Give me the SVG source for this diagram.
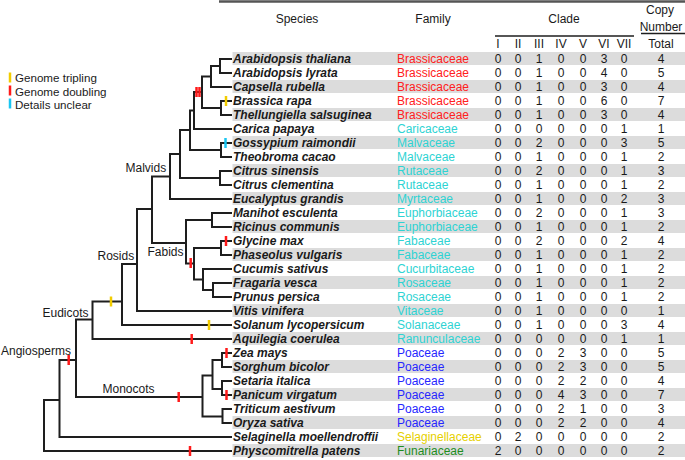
<svg xmlns="http://www.w3.org/2000/svg" width="685" height="460" viewBox="0 0 685 460">
<style>
text{font-family:"Liberation Sans",Arial,sans-serif;font-size:12px;fill:#1a1a1a}
.h{text-anchor:middle}
.sp{font-weight:bold;font-style:italic}
.n{text-anchor:middle}
.lg{font-size:11.6px}
.band{fill:#dcdcdc}
.br{fill:#ff2020}.cy{fill:#2ed3d3}.bl{fill:#2626ff}.ye{fill:#e6d000}.gr{fill:#1e8c1e}
.tree path{fill:none;stroke:#1e1e1e;stroke-width:2;stroke-linejoin:miter}
.mk{stroke-width:2.5}
.mr{stroke:#ff1a1a}.my{stroke:#f2cc00}.mc{stroke:#1ac6f2}
.rule{stroke:#1e1e1e;stroke-width:1.5}
</style>
<g id="header">
<line x1="219" y1="1.5" x2="685" y2="1.5" stroke="#555" stroke-width="2.5"/>
<text class="h" x="297" y="23">Species</text>
<text class="h" x="433" y="23">Family</text>
<text class="h" x="564" y="23">Clade</text>
<text class="h" x="660" y="14">Copy</text>
<text class="h" x="661" y="31">Number</text>
<line class="rule" x1="495" y1="36" x2="634" y2="36"/>
<line class="rule" x1="641" y1="33.5" x2="685" y2="33.5"/>
<text class="h" y="48"><tspan x="498">I</tspan><tspan x="518">II</tspan><tspan x="539">III</tspan><tspan x="561">IV</tspan><tspan x="583">V</tspan><tspan x="604">VI</tspan><tspan x="624">VII</tspan><tspan x="661">Total</tspan></text>
</g>
<g id="legend">
<line class="mk my" x1="10" y1="72.5" x2="10" y2="82.5"/>
<line class="mk mr" x1="10" y1="85.5" x2="10" y2="95.5"/>
<line class="mk mc" x1="10" y1="98.5" x2="10" y2="108.5"/>
<text class="lg" x="15" y="82">Genome tripling</text>
<text class="lg" x="15" y="95.5">Genome doubling</text>
<text class="lg" x="15" y="109">Details unclear</text>
</g>
<g id="bands">
<rect class="band" x="232.5" y="52" width="453" height="13"/>
<rect class="band" x="232.5" y="80" width="453" height="13"/>
<rect class="band" x="232.5" y="108" width="453" height="13"/>
<rect class="band" x="232.5" y="136" width="453" height="13"/>
<rect class="band" x="232.5" y="164" width="453" height="13"/>
<rect class="band" x="232.5" y="192" width="453" height="13"/>
<rect class="band" x="232.5" y="220" width="453" height="13"/>
<rect class="band" x="232.5" y="248" width="453" height="13"/>
<rect class="band" x="232.5" y="276" width="453" height="13"/>
<rect class="band" x="232.5" y="304" width="453" height="13"/>
<rect class="band" x="232.5" y="332" width="453" height="13"/>
<rect class="band" x="232.5" y="360" width="453" height="13"/>
<rect class="band" x="232.5" y="388" width="453" height="13"/>
<rect class="band" x="232.5" y="416" width="453" height="13"/>
<rect class="band" x="232.5" y="444" width="453" height="13"/>
</g>
<g id="connectors" class="tree">
<path d="M220 59H232M220 73H232M211 87H232M221 101H232M221 115H232M194 129H232M221 143H232M221 157H232M220 171H232M220 185H232M170 199H232M212 213H232M212 227H232M221 241H232M221 255H232M203 269H232M213 283H232M213 297H232M137 311H232M122 325H232M92.5 339H232M222 353H232M222 367H232M222 381H232M222 395H232M222.5 409H232M222.5 423H232M59.5 437H232M44 451H232"/>
<path d="M232 59H220V73H232"/>
<path d="M220 66H211V87H232"/>
<path d="M232 101H221V115H232"/>
<path d="M211 76.5H202V108H221"/>
<path d="M202 92H194V129H232"/>
<path d="M232 143H221V157H232"/>
<path d="M194 110.5H190V150H221"/>
<path d="M232 171H220V185H232"/>
<path d="M190 130H180V178H220"/>
<path d="M180 154H170V199H232"/>
<path d="M170 176.5H152V243H186"/>
<path d="M232 213H212V227H232"/>
<path d="M232 241H221V255H232"/>
<path d="M232 283H213V297H232"/>
<path d="M232 269H203V290H213"/>
<path d="M221 248H194V279.5H203"/>
<path d="M212 220H186V263.5H194"/>
<path d="M152 209H137V311H232"/>
<path d="M137 264H122V325H232"/>
<path d="M122 301.5H92.5V339H232"/>
<path d="M232 353H222V367H232"/>
<path d="M232 381H222V395H232"/>
<path d="M222 360H212.5V389H222"/>
<path d="M232 409H222.5V423H232"/>
<path d="M212.5 375.5H202.5V416.5H222.5"/>
<path d="M92.5 319.5H76V397H202.5"/>
<path d="M76 360H59.5V437H232"/>
<path d="M59.5 400H44V451H232"/>
</g>
<g id="events">
<line class="mk mr" x1="196.5" y1="87" x2="196.5" y2="97"/>
<line class="mk mr" x1="199.5" y1="87" x2="199.5" y2="97"/>
<line class="mk my" x1="226" y1="96" x2="226" y2="106"/>
<line class="mk mc" x1="225.5" y1="138" x2="225.5" y2="148"/>
<line class="mk mr" x1="226" y1="236" x2="226" y2="246"/>
<line class="mk mr" x1="190.7" y1="258" x2="190.7" y2="268"/>
<line class="mk my" x1="111" y1="296.5" x2="111" y2="306.5"/>
<line class="mk my" x1="209" y1="320" x2="209" y2="330"/>
<line class="mk mr" x1="191.7" y1="334" x2="191.7" y2="344"/>
<line class="mk mr" x1="68.7" y1="355" x2="68.7" y2="365"/>
<line class="mk mr" x1="178.7" y1="392" x2="178.7" y2="402"/>
<line class="mk mr" x1="226.5" y1="348" x2="226.5" y2="358"/>
<line class="mk mr" x1="226.5" y1="390" x2="226.5" y2="400"/>
<line class="mk mr" x1="190" y1="446" x2="190" y2="456"/>
</g>
<g id="clade-labels">
<text x="125.5" y="171.5">Malvids</text>
<text x="147.5" y="256">Fabids</text>
<text x="97.5" y="260">Rosids</text>
<text x="42.5" y="316.5">Eudicots</text>
<text x="1" y="355">Angiosperms</text>
<text x="102.5" y="393">Monocots</text>
</g>
<g id="r0"><text class="sp" x="233" y="63">Arabidopsis thaliana</text><text class="br" x="397" y="63">Brassicaceae</text><text class="n" y="63"><tspan x="498">0</tspan><tspan x="518">0</tspan><tspan x="539">1</tspan><tspan x="561">0</tspan><tspan x="583">0</tspan><tspan x="604">3</tspan><tspan x="624">0</tspan><tspan x="661">4</tspan></text></g>
<g id="r1"><text class="sp" x="233" y="77">Arabidopsis lyrata</text><text class="br" x="397" y="77">Brassicaceae</text><text class="n" y="77"><tspan x="498">0</tspan><tspan x="518">0</tspan><tspan x="539">1</tspan><tspan x="561">0</tspan><tspan x="583">0</tspan><tspan x="604">4</tspan><tspan x="624">0</tspan><tspan x="661">5</tspan></text></g>
<g id="r2"><text class="sp" x="233" y="91">Capsella rubella</text><text class="br" x="397" y="91">Brassicaceae</text><text class="n" y="91"><tspan x="498">0</tspan><tspan x="518">0</tspan><tspan x="539">1</tspan><tspan x="561">0</tspan><tspan x="583">0</tspan><tspan x="604">3</tspan><tspan x="624">0</tspan><tspan x="661">4</tspan></text></g>
<g id="r3"><text class="sp" x="233" y="105">Brassica rapa</text><text class="br" x="397" y="105">Brassicaceae</text><text class="n" y="105"><tspan x="498">0</tspan><tspan x="518">0</tspan><tspan x="539">1</tspan><tspan x="561">0</tspan><tspan x="583">0</tspan><tspan x="604">6</tspan><tspan x="624">0</tspan><tspan x="661">7</tspan></text></g>
<g id="r4"><text class="sp" x="233" y="119">Thellungiella salsuginea</text><text class="br" x="397" y="119">Brassicaceae</text><text class="n" y="119"><tspan x="498">0</tspan><tspan x="518">0</tspan><tspan x="539">1</tspan><tspan x="561">0</tspan><tspan x="583">0</tspan><tspan x="604">3</tspan><tspan x="624">0</tspan><tspan x="661">4</tspan></text></g>
<g id="r5"><text class="sp" x="233" y="133">Carica papaya</text><text class="cy" x="397" y="133">Caricaceae</text><text class="n" y="133"><tspan x="498">0</tspan><tspan x="518">0</tspan><tspan x="539">0</tspan><tspan x="561">0</tspan><tspan x="583">0</tspan><tspan x="604">0</tspan><tspan x="624">1</tspan><tspan x="661">1</tspan></text></g>
<g id="r6"><text class="sp" x="233" y="147">Gossypium raimondii</text><text class="cy" x="397" y="147">Malvaceae</text><text class="n" y="147"><tspan x="498">0</tspan><tspan x="518">0</tspan><tspan x="539">2</tspan><tspan x="561">0</tspan><tspan x="583">0</tspan><tspan x="604">0</tspan><tspan x="624">3</tspan><tspan x="661">5</tspan></text></g>
<g id="r7"><text class="sp" x="233" y="161">Theobroma cacao</text><text class="cy" x="397" y="161">Malvaceae</text><text class="n" y="161"><tspan x="498">0</tspan><tspan x="518">0</tspan><tspan x="539">1</tspan><tspan x="561">0</tspan><tspan x="583">0</tspan><tspan x="604">0</tspan><tspan x="624">1</tspan><tspan x="661">2</tspan></text></g>
<g id="r8"><text class="sp" x="233" y="175">Citrus sinensis</text><text class="cy" x="397" y="175">Rutaceae</text><text class="n" y="175"><tspan x="498">0</tspan><tspan x="518">0</tspan><tspan x="539">2</tspan><tspan x="561">0</tspan><tspan x="583">0</tspan><tspan x="604">0</tspan><tspan x="624">1</tspan><tspan x="661">3</tspan></text></g>
<g id="r9"><text class="sp" x="233" y="189">Citrus clementina</text><text class="cy" x="397" y="189">Rutaceae</text><text class="n" y="189"><tspan x="498">0</tspan><tspan x="518">0</tspan><tspan x="539">1</tspan><tspan x="561">0</tspan><tspan x="583">0</tspan><tspan x="604">0</tspan><tspan x="624">1</tspan><tspan x="661">2</tspan></text></g>
<g id="r10"><text class="sp" x="233" y="203">Eucalyptus grandis</text><text class="cy" x="397" y="203">Myrtaceae</text><text class="n" y="203"><tspan x="498">0</tspan><tspan x="518">0</tspan><tspan x="539">1</tspan><tspan x="561">0</tspan><tspan x="583">0</tspan><tspan x="604">0</tspan><tspan x="624">2</tspan><tspan x="661">3</tspan></text></g>
<g id="r11"><text class="sp" x="233" y="217">Manihot esculenta</text><text class="cy" x="397" y="217">Euphorbiaceae</text><text class="n" y="217"><tspan x="498">0</tspan><tspan x="518">0</tspan><tspan x="539">2</tspan><tspan x="561">0</tspan><tspan x="583">0</tspan><tspan x="604">0</tspan><tspan x="624">1</tspan><tspan x="661">3</tspan></text></g>
<g id="r12"><text class="sp" x="233" y="231">Ricinus communis</text><text class="cy" x="397" y="231">Euphorbiaceae</text><text class="n" y="231"><tspan x="498">0</tspan><tspan x="518">0</tspan><tspan x="539">1</tspan><tspan x="561">0</tspan><tspan x="583">0</tspan><tspan x="604">0</tspan><tspan x="624">1</tspan><tspan x="661">2</tspan></text></g>
<g id="r13"><text class="sp" x="233" y="245">Glycine max</text><text class="cy" x="397" y="245">Fabaceae</text><text class="n" y="245"><tspan x="498">0</tspan><tspan x="518">0</tspan><tspan x="539">2</tspan><tspan x="561">0</tspan><tspan x="583">0</tspan><tspan x="604">0</tspan><tspan x="624">2</tspan><tspan x="661">4</tspan></text></g>
<g id="r14"><text class="sp" x="233" y="259">Phaseolus vulgaris</text><text class="cy" x="397" y="259">Fabaceae</text><text class="n" y="259"><tspan x="498">0</tspan><tspan x="518">0</tspan><tspan x="539">1</tspan><tspan x="561">0</tspan><tspan x="583">0</tspan><tspan x="604">0</tspan><tspan x="624">1</tspan><tspan x="661">2</tspan></text></g>
<g id="r15"><text class="sp" x="233" y="273">Cucumis sativus</text><text class="cy" x="397" y="273">Cucurbitaceae</text><text class="n" y="273"><tspan x="498">0</tspan><tspan x="518">0</tspan><tspan x="539">1</tspan><tspan x="561">0</tspan><tspan x="583">0</tspan><tspan x="604">0</tspan><tspan x="624">1</tspan><tspan x="661">2</tspan></text></g>
<g id="r16"><text class="sp" x="233" y="287">Fragaria vesca</text><text class="cy" x="397" y="287">Rosaceae</text><text class="n" y="287"><tspan x="498">0</tspan><tspan x="518">0</tspan><tspan x="539">1</tspan><tspan x="561">0</tspan><tspan x="583">0</tspan><tspan x="604">0</tspan><tspan x="624">1</tspan><tspan x="661">2</tspan></text></g>
<g id="r17"><text class="sp" x="233" y="301">Prunus persica</text><text class="cy" x="397" y="301">Rosaceae</text><text class="n" y="301"><tspan x="498">0</tspan><tspan x="518">0</tspan><tspan x="539">1</tspan><tspan x="561">0</tspan><tspan x="583">0</tspan><tspan x="604">0</tspan><tspan x="624">1</tspan><tspan x="661">2</tspan></text></g>
<g id="r18"><text class="sp" x="233" y="315">Vitis vinifera</text><text class="cy" x="397" y="315">Vitaceae</text><text class="n" y="315"><tspan x="498">0</tspan><tspan x="518">0</tspan><tspan x="539">1</tspan><tspan x="561">0</tspan><tspan x="583">0</tspan><tspan x="604">0</tspan><tspan x="624">0</tspan><tspan x="661">1</tspan></text></g>
<g id="r19"><text class="sp" x="233" y="329">Solanum lycopersicum</text><text class="cy" x="397" y="329">Solanaceae</text><text class="n" y="329"><tspan x="498">0</tspan><tspan x="518">0</tspan><tspan x="539">1</tspan><tspan x="561">0</tspan><tspan x="583">0</tspan><tspan x="604">0</tspan><tspan x="624">3</tspan><tspan x="661">4</tspan></text></g>
<g id="r20"><text class="sp" x="233" y="343">Aquilegia coerulea</text><text class="cy" x="397" y="343">Ranunculaceae</text><text class="n" y="343"><tspan x="498">0</tspan><tspan x="518">0</tspan><tspan x="539">0</tspan><tspan x="561">0</tspan><tspan x="583">0</tspan><tspan x="604">0</tspan><tspan x="624">1</tspan><tspan x="661">1</tspan></text></g>
<g id="r21"><text class="sp" x="233" y="357">Zea mays</text><text class="bl" x="397" y="357">Poaceae</text><text class="n" y="357"><tspan x="498">0</tspan><tspan x="518">0</tspan><tspan x="539">0</tspan><tspan x="561">2</tspan><tspan x="583">3</tspan><tspan x="604">0</tspan><tspan x="624">0</tspan><tspan x="661">5</tspan></text></g>
<g id="r22"><text class="sp" x="233" y="371">Sorghum bicolor</text><text class="bl" x="397" y="371">Poaceae</text><text class="n" y="371"><tspan x="498">0</tspan><tspan x="518">0</tspan><tspan x="539">0</tspan><tspan x="561">2</tspan><tspan x="583">3</tspan><tspan x="604">0</tspan><tspan x="624">0</tspan><tspan x="661">5</tspan></text></g>
<g id="r23"><text class="sp" x="233" y="385">Setaria italica</text><text class="bl" x="397" y="385">Poaceae</text><text class="n" y="385"><tspan x="498">0</tspan><tspan x="518">0</tspan><tspan x="539">0</tspan><tspan x="561">2</tspan><tspan x="583">2</tspan><tspan x="604">0</tspan><tspan x="624">0</tspan><tspan x="661">4</tspan></text></g>
<g id="r24"><text class="sp" x="233" y="399">Panicum virgatum</text><text class="bl" x="397" y="399">Poaceae</text><text class="n" y="399"><tspan x="498">0</tspan><tspan x="518">0</tspan><tspan x="539">0</tspan><tspan x="561">4</tspan><tspan x="583">3</tspan><tspan x="604">0</tspan><tspan x="624">0</tspan><tspan x="661">7</tspan></text></g>
<g id="r25"><text class="sp" x="233" y="413">Triticum aestivum</text><text class="bl" x="397" y="413">Poaceae</text><text class="n" y="413"><tspan x="498">0</tspan><tspan x="518">0</tspan><tspan x="539">0</tspan><tspan x="561">2</tspan><tspan x="583">1</tspan><tspan x="604">0</tspan><tspan x="624">0</tspan><tspan x="661">3</tspan></text></g>
<g id="r26"><text class="sp" x="233" y="427">Oryza sativa</text><text class="bl" x="397" y="427">Poaceae</text><text class="n" y="427"><tspan x="498">0</tspan><tspan x="518">0</tspan><tspan x="539">0</tspan><tspan x="561">2</tspan><tspan x="583">2</tspan><tspan x="604">0</tspan><tspan x="624">0</tspan><tspan x="661">4</tspan></text></g>
<g id="r27"><text class="sp" x="233" y="441">Selaginella moellendroffii</text><text class="ye" x="397" y="441">Selaginellaceae</text><text class="n" y="441"><tspan x="498">0</tspan><tspan x="518">2</tspan><tspan x="539">0</tspan><tspan x="561">0</tspan><tspan x="583">0</tspan><tspan x="604">0</tspan><tspan x="624">0</tspan><tspan x="661">2</tspan></text></g>
<g id="r28"><text class="sp" x="233" y="455">Physcomitrella patens</text><text class="gr" x="397" y="455">Funariaceae</text><text class="n" y="455"><tspan x="498">2</tspan><tspan x="518">0</tspan><tspan x="539">0</tspan><tspan x="561">0</tspan><tspan x="583">0</tspan><tspan x="604">0</tspan><tspan x="624">0</tspan><tspan x="661">2</tspan></text></g>
</svg>
